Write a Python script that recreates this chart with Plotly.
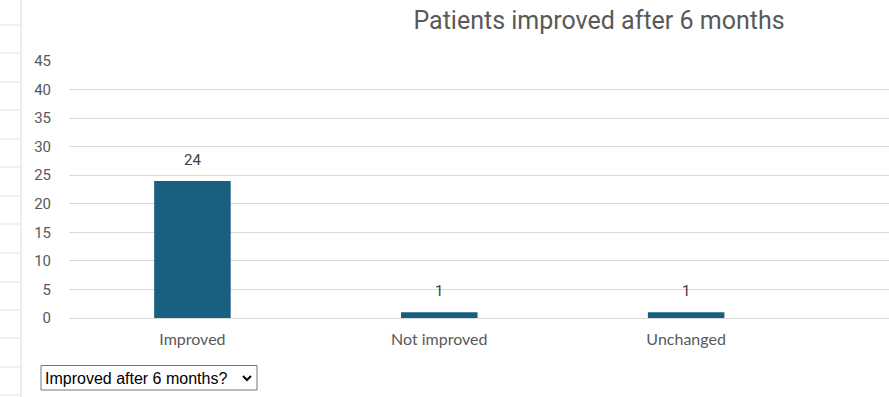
import plotly.graph_objects as go

categories = ["Improved", "Not improved", "Unchanged"]
counts = [24, 1, 1]
y_ticks = [0, 5, 10, 15, 20, 25, 30, 35, 40, 45]
title_text = "Patients improved after 6 months"
dropdown_text = "Improved after 6 months?"

W, H = 889, 397
ML, MR, MT, MB = 69, 0, 61, 79
PW, PH = W - ML - MR, H - MT - MB


def px(x):
    return (x - ML) / PW


def py(y):
    return (H - MB - y) / PH


xpos = list(range(len(categories)))

fig = go.Figure()
fig.add_trace(go.Bar(
    x=xpos, y=counts, width=0.31,
    marker=dict(color="#185F80", line=dict(width=0)),
    hoverinfo="skip",
))

# data labels
for xi, v in zip(xpos, counts):
    fig.add_annotation(x=xi, y=v, text=str(v), showarrow=False,
                       yanchor="bottom", yshift=10,
                       font=dict(family="Roboto", size=15, color="#404040"))

shapes = []
# spreadsheet background lines on the left
shapes.append(dict(type="line", xref="paper", yref="paper",
                   x0=px(21), x1=px(21), y0=py(0), y1=py(H),
                   line=dict(color="#DADADA", width=1)))
for ry in [25, 53, 82, 110, 139, 167, 196, 224, 253, 282, 310, 338, 367, 395]:
    shapes.append(dict(type="line", xref="paper", yref="paper",
                       x0=px(0), x1=px(20), y0=py(ry), y1=py(ry),
                       line=dict(color="#E3E3E3", width=1)))

# dropdown box
shapes.append(dict(type="rect", xref="paper", yref="paper",
                   x0=px(41), x1=px(257), y0=py(365.5), y1=py(390),
                   line=dict(color="#767676", width=1), fillcolor="white"))
# chevron
cx, cy = 247, 378
x1, y1 = px(cx - 4), py(cy - 2)
x2, y2 = px(cx), py(cy + 2)
x3, y3 = px(cx + 4), py(cy - 2)
shapes.append(dict(type="path", xref="paper", yref="paper",
                   path=f"M {x1},{y1} L {x2},{y2} L {x3},{y3}",
                   line=dict(color="black", width=2)))

fig.add_annotation(xref="paper", yref="paper", x=px(43), y=py(378),
                   xanchor="left", yanchor="middle", showarrow=False,
                   text=dropdown_text,
                   font=dict(family="Liberation Sans", size=16, color="black"))

fig.update_layout(
    width=W, height=H,
    margin=dict(l=ML, r=MR, t=MT, b=MB, pad=0),
    paper_bgcolor="white", plot_bgcolor="white",
    showlegend=False,
    shapes=shapes,
    title=dict(text=title_text, xref="container", x=599 / W, xanchor="center",
               yref="container", y=1 - 20 / H, yanchor="middle",
               font=dict(family="Roboto", size=25, color="#595959")),
    xaxis=dict(range=[-0.5, (W - 192) / 247],
               tickvals=xpos, ticktext=categories, showgrid=False,
               zeroline=False, showline=False, ticks="",
               ticklabelstandoff=10,
               tickfont=dict(family="Lato", size=16, color="#595959"),
               fixedrange=True),
    yaxis=dict(range=[0, 45], tickvals=y_ticks, showgrid=True,
               gridcolor="#D9D9D9", gridwidth=1, zeroline=True,
               zerolinecolor="#D9D9D9", zerolinewidth=1, showline=False,
               ticks="", ticklabelstandoff=17,
               tickfont=dict(family="Roboto", size=15, color="#595959"),
               fixedrange=True),
)

fig.write_html("out.html", config={"displayModeBar": False},
               post_script="document.body.style.margin='0';")
